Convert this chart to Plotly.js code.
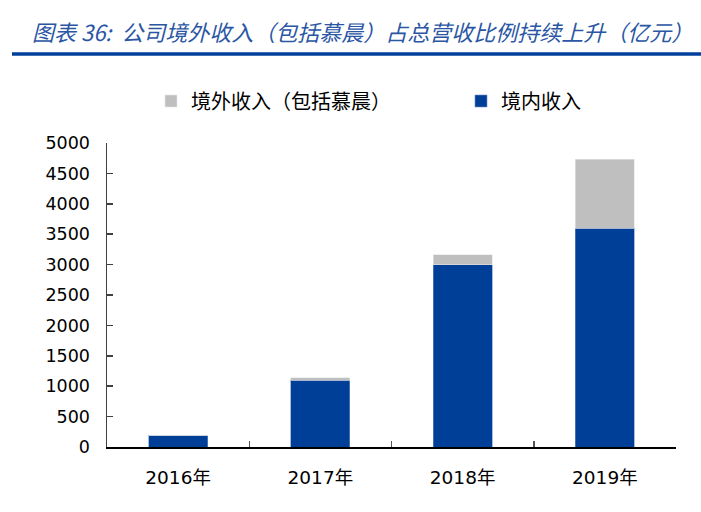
<!DOCTYPE html>
<html>
<head>
<meta charset="utf-8">
<script src="https://cdn.plot.ly/plotly-3.0.1.min.js"></script>
<style>html,body{margin:0;padding:0;background:#fff;}#chart{width:701px;height:512px;}</style>
</head>
<body>
<div id="chart"></div>
<script>
const years = ['2016年', '2017年', '2018年', '2019年'];
const domestic = [190, 1100, 3000, 3600];
const overseas = [0, 35, 165, 1135];
const seriesNames = ['境内收入', '境外收入（包括慕晨）'];
const yTicks = [0, 500, 1000, 1500, 2000, 2500, 3000, 3500, 4000, 4500, 5000];

const blue = '#003f98';
const grey = '#bfbfbf';

const traces = [
  {
    type: 'bar', name: seriesNames[0], x: years, y: domestic,
    marker: {color: blue, line: {color: '#6f8fc8', width: 0.6}},
    legend: 'legend2', hoverinfo: 'x+y+name'
  },
  {
    type: 'bar', name: seriesNames[1], x: years, y: overseas,
    marker: {color: grey, line: {color: '#e6e6e6', width: 0.6}},
    legend: 'legend', hoverinfo: 'x+y+name'
  }
];

const legendFont = {family: '"Noto Sans CJK SC", serif', size: 20, color: '#000000'};

const layout = {
  width: 701, height: 512,
  margin: {l: 107, r: 25, t: 143, b: 65},
  paper_bgcolor: '#ffffff', plot_bgcolor: '#ffffff',
  barmode: 'stack',
  bargap: 0.585,
  showlegend: true,
  title: {
    text: '图表 36:  公司境外收入（包括慕晨）占总营收比例持续上升（亿元）',
    font: {family: '"Noto Sans CJK SC", "Noto Sans", sans-serif', size: 22, color: '#2a56a4', style: 'italic'},
    xref: 'container', yref: 'container',
    x: 32 / 701, xanchor: 'left', y: 1 - 33 / 512, yanchor: 'middle'
  },
  legend: {
    orientation: 'h',
    xref: 'container', yref: 'container',
    x: 151 / 701, xanchor: 'left',
    y: 1 - 101 / 512, yanchor: 'middle',
    font: legendFont,
    bgcolor: 'rgba(0,0,0,0)'
  },
  legend2: {
    orientation: 'h',
    xref: 'container', yref: 'container',
    x: 461 / 701, xanchor: 'left',
    y: 1 - 101 / 512, yanchor: 'middle',
    font: legendFont,
    bgcolor: 'rgba(0,0,0,0)'
  },
  xaxis: {
    type: 'category',
    range: [-0.5, 3.5],
    showline: true, linecolor: '#000000', linewidth: 1.5,
    ticks: 'inside', tickson: 'boundaries', ticklen: 6, tickcolor: '#555555', tickwidth: 1.5,
    tickfont: {family: '"DejaVu Sans", "Noto Sans CJK SC", sans-serif', size: 18.5, color: '#000000'},
    ticklabelstandoff: 13,
    showgrid: false, zeroline: false, fixedrange: true
  },
  yaxis: {
    range: [0, 5000],
    tickvals: yTicks,
    ticktext: yTicks.map(String),
    showline: true, linecolor: '#404040', linewidth: 1.5,
    ticks: 'inside', ticklen: 6, tickcolor: '#404040', tickwidth: 1.5,
    tickfont: {family: '"DejaVu Sans", sans-serif', size: 17.5, color: '#000000'},
    ticklabelstandoff: 12,
    showgrid: false, zeroline: false, fixedrange: true
  },
  shapes: [
    {
      type: 'line', xref: 'paper', yref: 'paper',
      x0: (12 - 107) / 569, x1: (701 - 107) / 569,
      y0: (447 - 54) / 304, y1: (447 - 54) / 304,
      line: {color: '#00409a', width: 3.5}
    }
  ]
};

Plotly.newPlot('chart', traces, layout, {displayModeBar: false, staticPlot: true});
</script>
</body>
</html>
